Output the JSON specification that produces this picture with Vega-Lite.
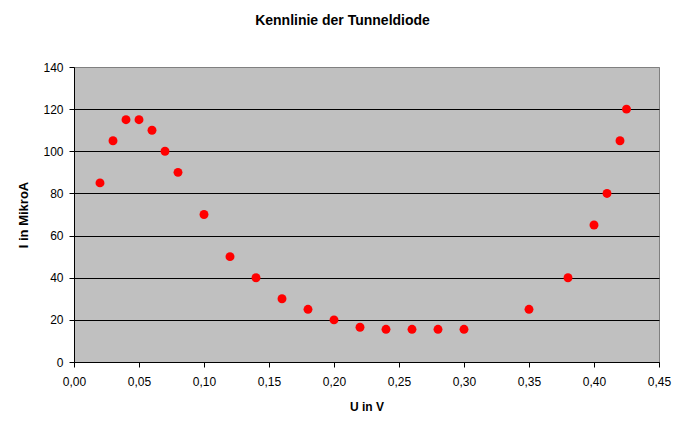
{
  "$schema": "https://vega.github.io/schema/vega-lite/v6.json",
  "autosize": {"type": "none"},
  "padding": {"left": 74, "top": 67, "right": 14, "bottom": 61},
  "width": 585,
  "height": 295,
  "background": "#FFFFFF",
  "title": {
    "text": "Kennlinie der Tunneldiode",
    "font": "Liberation Sans",
    "fontSize": 14,
    "fontWeight": "bold",
    "color": "#000000",
    "anchor": "middle",
    "baseline": "alphabetic",
    "offset": 22,
    "dx": -24
  },
  "data": {
    "values": [
      {"U": 0.02, "I": 85},
      {"U": 0.03, "I": 105},
      {"U": 0.04, "I": 115},
      {"U": 0.05, "I": 115},
      {"U": 0.06, "I": 110},
      {"U": 0.07, "I": 100},
      {"U": 0.08, "I": 90},
      {"U": 0.10, "I": 70},
      {"U": 0.12, "I": 50},
      {"U": 0.14, "I": 40},
      {"U": 0.16, "I": 30},
      {"U": 0.18, "I": 25},
      {"U": 0.20, "I": 20},
      {"U": 0.22, "I": 16.5},
      {"U": 0.24, "I": 15.5},
      {"U": 0.26, "I": 15.5},
      {"U": 0.28, "I": 15.5},
      {"U": 0.30, "I": 15.5},
      {"U": 0.35, "I": 25},
      {"U": 0.38, "I": 40},
      {"U": 0.40, "I": 65},
      {"U": 0.41, "I": 80},
      {"U": 0.42, "I": 105},
      {"U": 0.425, "I": 120}
    ]
  },
  "mark": {"type": "circle", "size": 80, "color": "#FF0000", "opacity": 1},
  "encoding": {
    "x": {
      "field": "U",
      "type": "quantitative",
      "scale": {"domain": [0, 0.45], "nice": false, "zero": true},
      "axis": {
        "title": "U in V",
        "values": [0, 0.05, 0.1, 0.15, 0.2, 0.25, 0.3, 0.35, 0.4, 0.45],
        "labelExpr": "replace(format(datum.value, '.2f'), '.', ',')",
        "grid": false,
        "tickSize": 5,
        "labelPadding": 9,
        "labelFlush": false,
        "labelOverlap": false,
        "titleY": 48,
        "titleBaseline": "alphabetic",
        "titleFontSize": 12
      }
    },
    "y": {
      "field": "I",
      "type": "quantitative",
      "scale": {"domain": [0, 140], "nice": false},
      "axis": {
        "title": "I in MikroA",
        "values": [0, 20, 40, 60, 80, 100, 120, 140],
        "grid": true,
        "gridColor": {
          "condition": {"test": "datum.value >= 140", "value": "#808080"},
          "value": "#000000"
        },
        "tickSize": 5,
        "labelPadding": 6,
        "labelFlush": false,
        "labelOverlap": false,
        "titleX": -51,
        "titleY": 147.5,
        "titleAngle": -90,
        "titleAlign": "center",
        "titleBaseline": "middle",
        "titleFontSize": 13
      }
    }
  },
  "config": {
    "view": {"fill": "#C0C0C0", "stroke": "#808080", "strokeWidth": 1},
    "axis": {
      "domainColor": "#000000",
      "domainWidth": 1,
      "tickColor": "#000000",
      "tickWidth": 1,
      "gridWidth": 1,
      "gridOpacity": 1,
      "labelFont": "Liberation Sans",
      "labelFontSize": 12,
      "labelColor": "#000000",
      "titleFont": "Liberation Sans",
      "titleFontWeight": "bold",
      "titleColor": "#000000"
    }
  }
}
